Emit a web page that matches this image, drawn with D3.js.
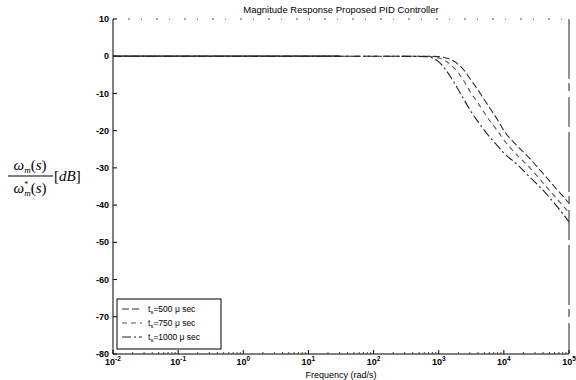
<!DOCTYPE html>
<html><head><meta charset="utf-8">
<script src="https://cdn.jsdelivr.net/npm/d3@7"></script>
<style>body{margin:0;background:#fff}svg{display:block}</style>
</head><body>
<svg id="c" width="576" height="380"></svg>
<script>
const titleText = "Magnitude Response  Proposed PID Controller";
const xLabelText = "Frequency (rad/s)";
const freqs = [0.01, 100, 630, 1000, 1260, 1580, 2000, 2510, 3160, 3980, 5620, 7940, 10000, 15850, 25120, 39810, 63100, 100000];
const mag500  = [0, 0, 0, -0.1, -0.4, -1.0, -2.2, -4.0, -6.5, -9.0, -13, -17, -20, -24, -27.5, -31.5, -35.5, -39.5];
const mag750  = [0, 0, 0, -0.5, -1.2, -2.5, -4.5, -7, -10, -12.5, -16.5, -20, -22.5, -26.5, -30, -34, -38, -42];
const mag1000 = [0, 0, -0.1, -1.5, -3.5, -6, -9, -12, -15, -17.5, -21, -24, -26, -29, -32.5, -36, -40, -44.5];
const seriesNames = ["500", "750", "1000"];
const xTickVals = [0.01, 0.1, 1, 10, 100, 1000, 10000, 100000];
const xTickExp = ["-2", "-1", "0", "1", "2", "3", "4", "5"];
const yTickVals = [10, 0, -10, -20, -30, -40, -50, -60, -70, -80];

const svg = d3.select("#c");
const L = 113, R = 569, T = 19, B = 354;
const x = d3.scaleLog().domain([0.01, 100000]).range([L, R]);
const y = d3.scaleLinear().domain([-80, 10]).range([B, T]);
const font = "'Liberation Sans', Arial, sans-serif";

// box
svg.append("line").attr("x1", L).attr("x2", R).attr("y1", B).attr("y2", B).attr("stroke", "#000").attr("stroke-width", 1);
svg.append("line").attr("x1", L).attr("x2", L).attr("y1", T).attr("y2", B).attr("stroke", "#000").attr("stroke-width", 1);
svg.append("line").attr("x1", R).attr("x2", R).attr("y1", T).attr("y2", B).attr("stroke", "#222").attr("stroke-width", 1).attr("stroke-dasharray", "60,4,8,6,30,5");
svg.append("line").attr("x1", L).attr("x2", R).attr("y1", T).attr("y2", T).attr("stroke", "#555").attr("stroke-width", 1).attr("stroke-dasharray", "1,14,2,11");

// y ticks
const yg = svg.append("g");
yTickVals.forEach(v => {
  yg.append("line").attr("x1", L).attr("x2", L + 4).attr("y1", y(v)).attr("y2", y(v)).attr("stroke", "#000");
  yg.append("text").attr("x", L - 4).attr("y", y(v)).attr("dy", "0.35em").attr("text-anchor", "end")
    .attr("font-family", font).attr("font-size", 9).attr("font-weight", "bold").text(v);
});
// x ticks
const xg = svg.append("g");
xTickVals.forEach((v, i) => {
  xg.append("line").attr("x1", x(v)).attr("x2", x(v)).attr("y1", B).attr("y2", B - 4).attr("stroke", "#000");
  const t = xg.append("text").attr("x", x(v)).attr("y", B + 11).attr("text-anchor", "middle")
    .attr("font-family", font).attr("font-size", 9).attr("font-weight", "bold");
  t.append("tspan").text("10");
  t.append("tspan").attr("dy", -4).attr("font-size", 6.5).text(xTickExp[i]);
});
// minor x ticks
for (let d = -2; d < 5; d++) {
  for (let k = 2; k <= 9; k++) {
    const v = k * Math.pow(10, d);
    xg.append("line").attr("x1", x(v)).attr("x2", x(v)).attr("y1", B).attr("y2", B - 2).attr("stroke", "#444");
  }
}

// title and labels
svg.append("text").attr("x", (L + R) / 2).attr("y", 13).attr("text-anchor", "middle")
  .attr("font-family", font).attr("font-size", 9.5).text(titleText);
svg.append("text").attr("x", (L + R) / 2).attr("y", 378).attr("text-anchor", "middle")
  .attr("font-family", font).attr("font-size", 9).text(xLabelText);

// y label fraction
const serif = "'Liberation Serif', 'DejaVu Serif', serif";
const num = svg.append("text").attr("x", 30).attr("y", 170).attr("text-anchor", "middle").attr("font-family", serif).attr("font-size", 15);
num.append("tspan").attr("font-style", "italic").text("ω");
num.append("tspan").attr("dy", 3).attr("font-size", 9).attr("font-style", "italic").text("m");
num.append("tspan").attr("dy", -3).text("(");
num.append("tspan").attr("font-style", "italic").text("s");
num.append("tspan").text(")");
svg.append("line").attr("x1", 8).attr("x2", 53).attr("y1", 176).attr("y2", 176).attr("stroke", "#000").attr("stroke-width", 1);
const den = svg.append("text").attr("x", 30).attr("y", 193).attr("text-anchor", "middle").attr("font-family", serif).attr("font-size", 15);
den.append("tspan").attr("font-style", "italic").text("ω");
den.append("tspan").attr("dy", -6).attr("font-size", 8).text("*");
den.append("tspan").attr("dx", -4).attr("dy", 9).attr("font-size", 9).attr("font-style", "italic").text("m");
den.append("tspan").attr("dy", -3).text("(");
den.append("tspan").attr("font-style", "italic").text("s");
den.append("tspan").text(")");
const db = svg.append("text").attr("x", 54).attr("y", 181).attr("font-family", serif).attr("font-size", 15);
db.append("tspan").text("[");
db.append("tspan").attr("font-style", "italic").text("dB");
db.append("tspan").text("]");

// curves
const allSeries = [mag500, mag750, mag1000];
const dashes = ["7,3", "5,4", "9,3,2,3"];
const colors = ["#333", "#555", "#222"];
const line = d3.line().x((d, i) => x(freqs[i])).y(d => y(d)).curve(d3.curveMonotoneX);
svg.append("line").attr("x1", L).attr("x2", x(30)).attr("y1", y(0)).attr("y2", y(0)).attr("stroke", "#000").attr("stroke-width", 1.2);
allSeries.forEach((s, k) => {
  svg.append("path").datum(s).attr("d", line).attr("fill", "none")
    .attr("stroke", colors[k]).attr("stroke-width", 1.1).attr("stroke-dasharray", dashes[k]);
});

// legend
const lg = svg.append("g");
lg.append("rect").attr("x", 117).attr("y", 299).attr("width", 104).attr("height", 50)
  .attr("fill", "#fff").attr("stroke", "#000").attr("stroke-width", 1);
seriesNames.forEach((n, k) => {
  const yy = 309 + k * 14;
  lg.append("line").attr("x1", 122).attr("x2", 142).attr("y1", yy).attr("y2", yy)
    .attr("stroke", colors[k]).attr("stroke-width", 1.1).attr("stroke-dasharray", dashes[k]);
  const t = lg.append("text").attr("x", 148).attr("y", yy + 3).attr("font-family", font).attr("font-size", 8.5);
  t.append("tspan").text("t");
  t.append("tspan").attr("dy", 2).attr("font-size", 6).text("s");
  t.append("tspan").attr("dy", -2).text("=" + n + " μ sec");
});
</script>
</body></html>
